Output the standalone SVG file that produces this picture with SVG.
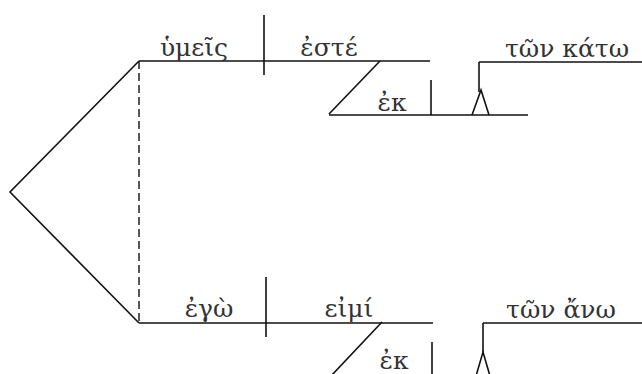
<svg xmlns="http://www.w3.org/2000/svg" width="642" height="374" viewBox="0 0 642 374">
<style>
.l{stroke:#111;stroke-width:1.6;fill:none}
.d{stroke:#111;stroke-width:1.4;fill:none;stroke-dasharray:8,4}
.t{font-family:"DejaVu Serif","Liberation Serif",serif;font-size:25px;fill:#333;text-anchor:middle}
</style>
<rect width="642" height="374" fill="#fff"/>
<g id="connectors">
<path class="l" d="M139,61 L10,192 L139,323"/>
<path class="d" d="M139,61 V323"/>
<path class="l" d="M380,61 L329,114"/>
<path class="l" d="M382,322 L331,376"/>
<path class="l" d="M479,62 V92"/>
<path class="l" d="M483,323 V352"/>
</g>
<g id="n-hymeis"><path class="l" d="M139,61 H264"/><text class="t" x="194" y="56">ὑμεῖς</text></g>
<g id="n-divider1"><path class="l" d="M264,15 V75"/></g>
<g id="n-este"><path class="l" d="M264,61 H430"/><text class="t" x="329" y="56">ἐστέ</text></g>
<g id="n-ek1"><path class="l" d="M329,115 H528"/><path class="l" d="M431,80 V115"/><text class="t" x="392" y="111">ἐκ</text><path class="l" d="M472,115 L481,90 L489,115"/></g>
<g id="n-ton-kato"><path class="l" d="M479,62 H642"/><text class="t" x="567" y="57">τῶν κάτω</text></g>
<g id="n-ego"><path class="l" d="M139,323 H266"/><text class="t" x="209" y="317">ἐγὼ</text></g>
<g id="n-divider2"><path class="l" d="M266,277 V337"/></g>
<g id="n-eimi"><path class="l" d="M266,323 H433"/><text class="t" x="349" y="317">εἰμί</text></g>
<g id="n-ek2"><path class="l" d="M432,342 V376"/><text class="t" x="394" y="369">ἐκ</text><path class="l" d="M476,376 L483,352 L490,376"/></g>
<g id="n-ton-ano"><path class="l" d="M483,323 H642"/><text class="t" x="561" y="318">τῶν ἄνω</text></g>
</svg>
